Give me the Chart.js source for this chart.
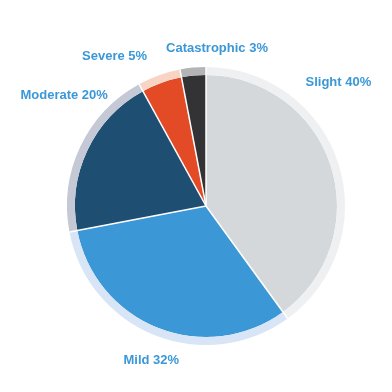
<!DOCTYPE html>
<html>
<head>
<meta charset="utf-8">
<script src="https://cdn.jsdelivr.net/npm/chart.js@4"></script>
<style>
  html, body { margin: 0; padding: 0; background: #fff; }
  #wrap { width: 392px; height: 392px; }
</style>
</head>
<body>
<div id="wrap"><canvas id="chartSeverity" width="392" height="392"></canvas></div>
<script>
const categories = ['Slight', 'Mild', 'Moderate', 'Severe', 'Catastrophic'];
const shares = [40, 32, 20, 5, 3];

const mainColors = ['#d5d8da', '#3c97d6', '#1f4e73', '#e24b26', '#333336'];
const ringColors = ['#eff0f1', '#d7e5f6', '#c5c9d6', '#f8d4c4', '#b4b4b6'];

// where each label sits, polar around the pie centre (deg, px)
const labelSpots = [
  { angle: -43, dist: 181 },
  { angle: 109.5, dist: 164 },
  { angle: 218, dist: 180 },
  { angle: 238.5, dist: 175 },
  { angle: 274, dist: 158 }
];

const separators = {
  id: 'separators',
  afterDatasetsDraw(chart) {
    const ring = chart.getDatasetMeta(0).data;
    const pie = chart.getDatasetMeta(1).data;
    const ctx = chart.ctx;
    ctx.save();
    ctx.strokeStyle = '#ffffff';
    ctx.lineWidth = 1.5;
    pie.forEach((arc, i) => {
      const R = ring[i].outerRadius;
      ctx.beginPath();
      ctx.moveTo(arc.x, arc.y);
      ctx.lineTo(arc.x + Math.cos(arc.startAngle) * R, arc.y + Math.sin(arc.startAngle) * R);
      ctx.stroke();
    });
    ctx.restore();
  }
};

const sliceLabels = {
  id: 'sliceLabels',
  afterDraw(chart) {
    const pie = chart.getDatasetMeta(1).data;
    const ctx = chart.ctx;
    ctx.save();
    ctx.font = 'bold 13px "Liberation Sans", Arial, sans-serif';
    ctx.fillStyle = '#3b98d8';
    ctx.textAlign = 'center';
    ctx.textBaseline = 'middle';
    pie.forEach((arc, i) => {
      const a = labelSpots[i].angle * Math.PI / 180;
      const d = labelSpots[i].dist;
      ctx.fillText(categories[i] + ' ' + shares[i] + '%', arc.x + Math.cos(a) * d, arc.y + Math.sin(a) * d);
    });
    ctx.restore();
  }
};

new Chart(document.getElementById('chartSeverity'), {
  type: 'pie',
  data: {
    labels: categories,
    datasets: [
      { data: shares, backgroundColor: ringColors, borderWidth: 0, weight: 8 },
      { data: shares, backgroundColor: mainColors, borderWidth: 0, weight: 131 }
    ]
  },
  options: {
    responsive: false,
    animation: false,
    layout: { padding: { left: 67, top: 67, right: 47, bottom: 47 } },
    plugins: {
      legend: { display: false },
      tooltip: { enabled: false }
    }
  },
  plugins: [separators, sliceLabels]
});
</script>
</body>
</html>
